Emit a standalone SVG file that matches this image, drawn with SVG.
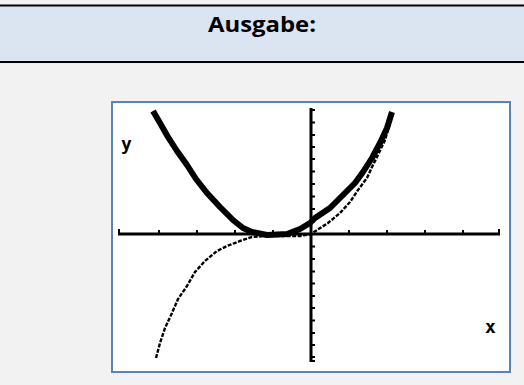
<svg xmlns="http://www.w3.org/2000/svg" width="524" height="385" viewBox="0 0 524 385">
<style>
.hdr{font-family:"Open Sans","Liberation Sans",sans-serif;font-weight:bold;font-size:21px;fill:#000}
.lbl{font-family:"DejaVu Sans Mono","Liberation Mono",monospace;font-weight:bold;font-size:18px;fill:#000}
.axis{stroke:#000;stroke-width:3;fill:none}
.tick{stroke:#000;stroke-width:2;fill:none}
.thick{stroke:#000;stroke-width:6;fill:none;stroke-linejoin:round}
.thin{stroke:#000;stroke-width:2.4;fill:none;stroke-dasharray:4 1.5}
</style>
<rect x="0" y="0" width="524" height="385" fill="#f2f2f2"/>
<g id="header">
<rect x="0" y="6" width="524" height="56" fill="#dbe5f1"/>
<line x1="0" y1="5.5" x2="524" y2="5.5" stroke="#000" stroke-width="2"/>
<line x1="0" y1="62" x2="524" y2="62" stroke="#000" stroke-width="2"/>
<text class="hdr" x="262" y="32" text-anchor="middle" textLength="108" lengthAdjust="spacingAndGlyphs">Ausgabe:</text>
</g>
<g id="plot">
<rect x="112" y="102" width="398" height="270" fill="#fff" stroke="#5a83b8" stroke-width="2"/>
<g id="axes">
<line class="axis" x1="118" y1="234" x2="500" y2="234"/>
<line class="axis" x1="311" y1="108" x2="311" y2="362"/>
<path class="tick" d="M119,234v-5 M159,234v-4 M197,234v-4 M235,234v-4 M273,234v-4 M349,234v-4 M387,234v-4 M425,234v-4 M463,234v-4 M499,234v-5"/>
<path class="tick" d="M311,110h4 M311,122.5h4 M311,135h4 M311,147h4 M311,159h4 M311,171.5h4 M311,184h4 M311,196.5h4 M311,209h4 M311,221.5h4 M311,246.5h4 M311,259h4 M311,271.5h4 M311,283.5h4 M311,296h4 M311,308h4 M311,320.5h4 M311,333h4 M311,345h4 M311,357h4 M311,361h4"/>
</g>
<g id="curves">
<polyline class="thick" points="153,111 160,123 168,137 177,151 187,165 196,179 207,193 220,207 233,220 243,228 252,232 267,235 287,234 300,229 310,223 315,218 330,208 343,195 355,183 363,172 372,158 380,143 387,128 392,112"/>
<polyline class="thin" points="156,358 160,343 165,328 172,313 178,299 187,286 195,272 205,261 217,251 227,246 240,241 252,237 265,236 300,236 311,234 317,230 328,223 340,213 350,202 358,190 367,178 372,167 377,157 385,140 391,120"/>
</g>
<text class="lbl" x="121" y="150">y</text>
<text class="lbl" x="485" y="333">x</text>
</g>
</svg>
